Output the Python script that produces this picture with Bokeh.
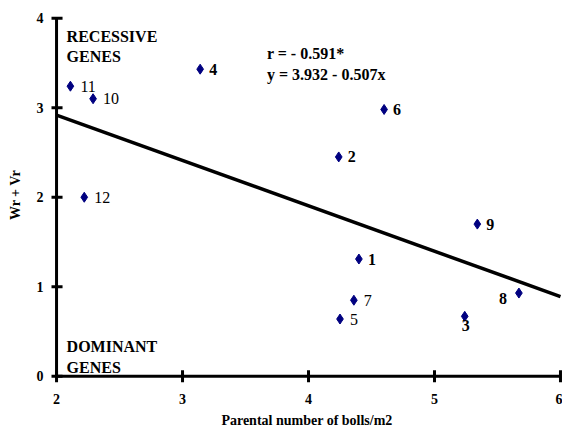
from bokeh.plotting import figure
from bokeh.models import Range1d, ColumnDataSource, Label, FixedTicker
from bokeh.core.properties import value
from bokeh.embed import file_html
from bokeh.resources import INLINE

# Data
genotype = ["1", "2", "3", "4", "5", "6", "7", "8", "9", "10", "11", "12"]
bolls = [4.40, 4.24, 5.24, 3.14, 4.25, 4.60, 4.36, 5.67, 5.34, 2.29, 2.11, 2.22]
wr_vr = [1.31, 2.45, 0.67, 3.43, 0.64, 2.98, 0.85, 0.93, 1.70, 3.10, 3.24, 2.00]
intercept = 3.932
slope = -0.507
x_ticks = [2, 3, 4, 5, 6]
y_ticks = [0, 1, 2, 3, 4]

FONT = "Liberation Serif"
NAVY = "#000080"

p = figure(width=562, height=430, output_backend="svg", toolbar_location=None,
           x_range=Range1d(1.96, 6.016), y_range=Range1d(-0.08, 4.13),
           min_border_left=51, min_border_right=0, min_border_top=6,
           min_border_bottom=45)
p.grid.visible = False
p.outline_line_color = None
p.background_fill_color = "white"
p.border_fill_color = "white"

# Bokeh axes only for the labels
p.axis.axis_line_color = None
p.axis.major_tick_line_color = None
p.axis.minor_tick_line_color = None
p.axis.major_tick_in = 0
p.axis.major_tick_out = 0
p.axis.major_label_text_font = FONT
p.axis.major_label_text_font_style = "bold"
p.axis.major_label_text_font_size = "14px"
p.axis.major_label_text_color = "black"
p.axis.axis_label_text_font = FONT
p.axis.axis_label_text_font_style = "bold"
p.axis.axis_label_text_font_size = "14px"
p.axis.axis_label_text_color = "black"

p.xaxis.ticker = FixedTicker(ticks=x_ticks)
p.yaxis.ticker = FixedTicker(ticks=y_ticks)
p.xaxis.axis_label = "Parental number of bolls/m2"
p.yaxis.axis_label = "Wr + Vr"
p.xaxis.major_label_standoff = 10
p.xaxis.axis_label_standoff = 6
p.yaxis.major_label_standoff = 8
p.yaxis.axis_label_standoff = 11

# Axis lines and crossing ticks drawn as filled bars
x0, x1 = x_ticks[0], x_ticks[-1]
y0, y1 = y_ticks[0], y_ticks[-1]
p.rect(x=[(x0 + x1) / 2], y=[y0], width=[x1 - x0], height=3,
       height_units="screen", fill_color="black", line_color=None)
p.rect(x=[x0], y=[(y0 + y1) / 2], width=3, height=[y1 - y0],
       width_units="screen", fill_color="black", line_color=None)
p.rect(x=[x0] * len(y_ticks), y=y_ticks, width=12, height=3,
       width_units="screen", height_units="screen", fill_color="black", line_color=None)
p.rect(x=x_ticks, y=[y0] * len(x_ticks), width=3, height=12,
       width_units="screen", height_units="screen", fill_color="black", line_color=None)

# Regression line
xl = [x0, x1]
yl = [intercept + slope * v for v in xl]
p.line(xl, yl, line_color="black", line_width=3.5)

# Points
src = ColumnDataSource(dict(x=bolls, y=wr_vr, label=genotype))
p.scatter("x", "y", source=src, marker="diamond", size=10,
          fill_color=NAVY, line_color=NAVY)

# Point labels (placement per label)
right_bold = {"1", "2", "4", "6", "9"}
for i, lab in enumerate(genotype):
    x, y = bolls[i], wr_vr[i]
    if lab == "8":
        kw = dict(text_align="right", text_baseline="middle", x_offset=-12, y_offset=5, text_font_style="bold")
    elif lab == "3":
        kw = dict(text_align="center", text_baseline="top", x_offset=1, y_offset=4, text_font_style="bold")
    elif lab in right_bold:
        kw = dict(text_align="left", text_baseline="middle", x_offset=9, y_offset=0, text_font_style="bold")
    else:
        kw = dict(text_align="left", text_baseline="middle", x_offset=10, y_offset=0, text_font_style="normal")
    p.text(x=[x], y=[y], text=[lab], text_font=value(FONT), text_font_size="16px",
           text_color="black", **kw)

# Annotations
notes = [
    ("RECESSIVE", 2.08, 3.79),
    ("GENES", 2.08, 3.57),
    ("DOMINANT", 2.08, 0.33),
    ("GENES", 2.08, 0.10),
    ("r = - 0.591*", 3.67, 3.61),
    ("y = 3.932 - 0.507x", 3.67, 3.37),
]
for t, x, y in notes:
    p.add_layout(Label(x=x, y=y, text=t, text_font=FONT, text_font_style="bold",
                       text_font_size="16px", text_color="black",
                       text_baseline="alphabetic", text_align="left"))

open("out.html", "w").write(file_html(p, INLINE))
